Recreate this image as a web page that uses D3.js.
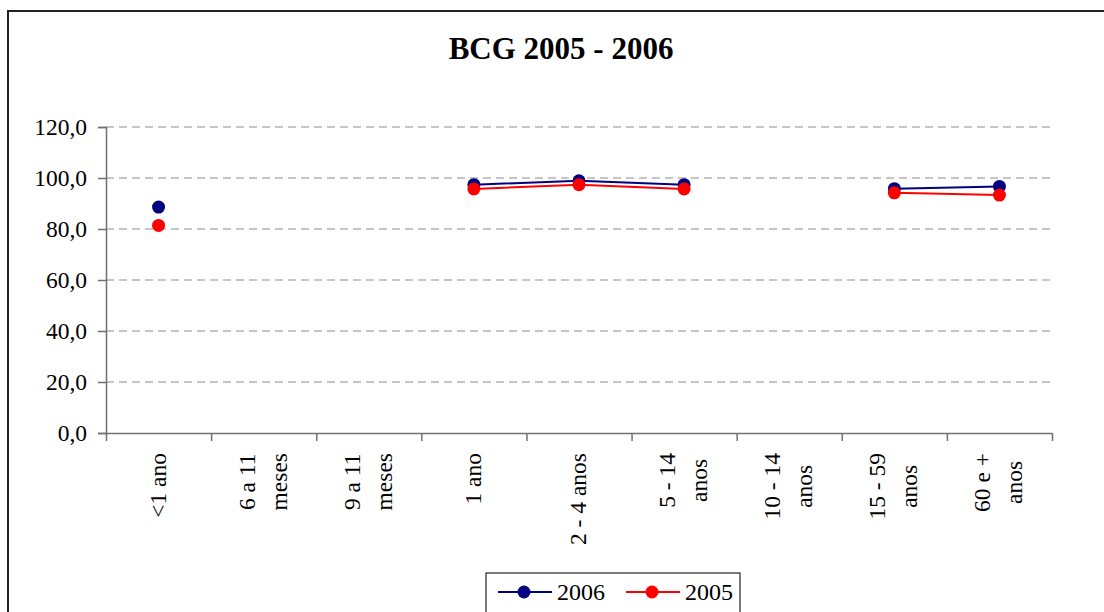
<!DOCTYPE html>
<html>
<head>
<meta charset="utf-8">
<script src="https://cdn.jsdelivr.net/npm/d3@7"></script>
<style>
  html, body { margin: 0; padding: 0; background: #fff; }
  svg { display: block; font-family: "Liberation Serif", "Times New Roman", serif; }
</style>
</head>
<body>
<svg id="chart" width="1104" height="612"></svg>
<script>
// Age groups (line breaks mark the wrapped axis labels)
const categories = [
  "<1 ano", "6 a 11\nmeses", "9 a 11\nmeses", "1 ano", "2 - 4 anos",
  "5 - 14\nanos", "10 - 14\nanos", "15 - 59\nanos", "60 e +\nanos"
];
// Coverage (%) per age group; null where no value was recorded
const values2006 = [88.6, null, null, 97.4, 98.9, 97.4, null, 95.8, 96.7];
const values2005 = [81.4, null, null, 95.7, 97.4, 95.7, null, 94.2, 93.3];
const yTicks = [0, 20, 40, 60, 80, 100, 120];
const seriesNames = ["2006", "2005"];
const seriesColors = ["#000080", "#ff0000"];

const svg = d3.select("#chart");
const fmt = v => d3.format(".1f")(v).replace(".", ",");

const plot = { left: 106, right: 1052, top: 127, bottom: 433 };

// Outer frame
svg.append("rect")
  .attr("x", 8).attr("y", 11).attr("width", 1120).attr("height", 640)
  .attr("fill", "none").attr("stroke", "#222").attr("stroke-width", 2);

// Title
svg.append("text")
  .attr("x", 561).attr("y", 59)
  .attr("text-anchor", "middle")
  .attr("font-weight", "bold").attr("font-size", 31)
  .text("BCG 2005 - 2006");

const x = d3.scaleBand().domain(d3.range(categories.length))
  .range([plot.left, plot.right]).paddingInner(0).paddingOuter(0);
const y = d3.scaleLinear().domain([0, 120]).range([plot.bottom, plot.top]);

// Dashed gridlines
svg.append("g").selectAll("line")
  .data(yTicks.filter(t => t > 0))
  .join("line")
  .attr("x1", plot.left).attr("x2", plot.right)
  .attr("y1", d => y(d)).attr("y2", d => y(d))
  .attr("stroke", "#b4b4b4").attr("stroke-width", 1.5)
  .attr("stroke-dasharray", "8,5");

// Y axis
const yAxis = svg.append("g")
  .attr("transform", `translate(${plot.left},0)`)
  .call(d3.axisLeft(y).tickValues(yTicks).tickFormat(fmt).tickSize(8).tickPadding(11));
yAxis.selectAll("path, line").attr("stroke", "#707070").attr("stroke-width", 1.5);
yAxis.selectAll("text")
  .attr("font-size", 23.5).attr("fill", "#000")
  .attr("font-family", "Liberation Serif, Times New Roman, serif");

// X axis with ticks on category boundaries
const xb = d3.scaleLinear().domain([0, categories.length]).range([plot.left, plot.right]);
const xAxis = svg.append("g")
  .attr("transform", `translate(0,${plot.bottom})`)
  .call(d3.axisBottom(xb).tickValues(d3.range(categories.length + 1)).tickFormat("").tickSize(8).tickSizeOuter(0));
xAxis.selectAll("path, line").attr("stroke", "#707070").attr("stroke-width", 1.5);

// Rotated category labels: block top-aligned under the axis, lines centered within block
const labelTop = 453, lineGap = 32, labelSize = 23.5;
categories.forEach((cat, i) => {
  const lines = cat.split("\n");
  const cx = x(i) + x.bandwidth() / 2;
  const g = svg.append("g");
  const texts = lines.map((ln, k) => {
    const base = cx + 7 + (k - (lines.length - 1) / 2) * lineGap;
    return g.append("text")
      .attr("font-size", labelSize)
      .attr("text-anchor", "middle")
      .attr("data-base", base)
      .text(ln);
  });
  const maxLen = d3.max(texts, t => t.node().getComputedTextLength());
  texts.forEach(t => {
    const base = +t.attr("data-base");
    const cy = labelTop + maxLen / 2;
    t.attr("transform", `translate(${base},${cy}) rotate(-90)`).attr("data-base", null);
  });
});

// Series
const series = [values2006, values2005];
const line = d3.line()
  .defined(d => d != null)
  .x((d, i) => x(i) + x.bandwidth() / 2)
  .y(d => y(d));

// Draw 2005 first so 2006 markers sit under the red ones as layered
[1, 0].forEach(s => {
  svg.append("path")
    .datum(series[s])
    .attr("d", line)
    .attr("fill", "none")
    .attr("stroke", seriesColors[s]).attr("stroke-width", 2);
});
[0, 1].forEach(s => {
  svg.append("g").selectAll("circle")
    .data(series[s].map((v, i) => ({ v, i })).filter(d => d.v != null))
    .join("circle")
    .attr("cx", d => x(d.i) + x.bandwidth() / 2)
    .attr("cy", d => y(d.v))
    .attr("r", 6.5)
    .attr("fill", seriesColors[s]);
});

// Legend
const legend = svg.append("g");
legend.append("rect")
  .attr("x", 486).attr("y", 573).attr("width", 254).attr("height", 60)
  .attr("fill", "#fff").attr("stroke", "#222").attr("stroke-width", 1.2);
const legendX = [498, 626];
seriesNames.forEach((name, s) => {
  const lx = legendX[s];
  legend.append("line")
    .attr("x1", lx).attr("x2", lx + 54).attr("y1", 592).attr("y2", 592)
    .attr("stroke", seriesColors[s]).attr("stroke-width", 2);
  legend.append("circle")
    .attr("cx", lx + 26).attr("cy", 592).attr("r", 6.5)
    .attr("fill", seriesColors[s]);
  legend.append("text")
    .attr("x", lx + 59).attr("y", 600)
    .attr("font-size", 24)
    .text(name);
});
</script>
</body>
</html>
